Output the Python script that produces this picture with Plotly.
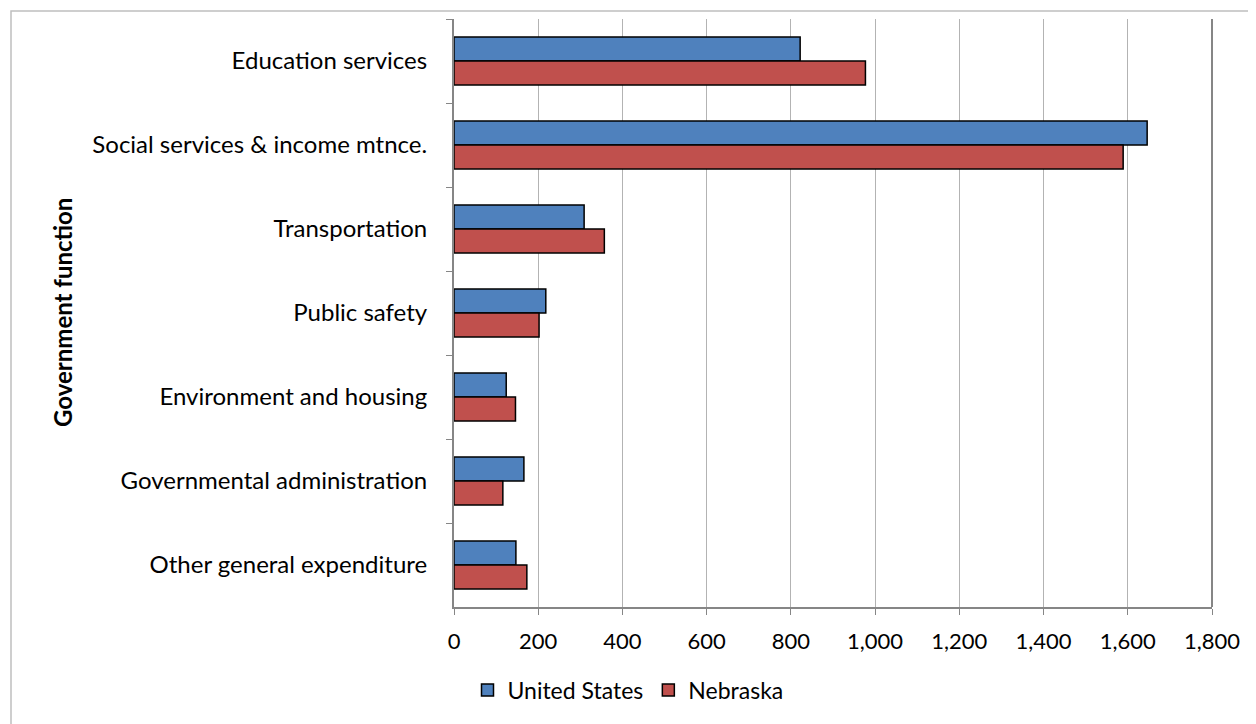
import plotly.graph_objects as go

categories = [
    "Education services",
    "Social services & income mtnce.",
    "Transportation",
    "Public safety",
    "Environment and housing",
    "Governmental administration",
    "Other general expenditure",
]
us_values = [822, 1646, 309, 218, 124, 166, 147]
ne_values = [977, 1589, 357, 202, 146, 116, 173]
x_ticks = [0, 200, 400, 600, 800, 1000, 1200, 1400, 1600, 1800]
x_tick_labels = ["0", "200", "400", "600", "800", "1,000", "1,200", "1,400", "1,600", "1,800"]

OFF = 8  # page body margin
W, H = 1256 - OFF, 724 - OFF
L, R, T, B = 454 - OFF, 1212 - OFF, 19 - OFF, 607 - OFF

font_family = "Lato, Carlito, Calibri, sans-serif"

fig = go.Figure()
fig.add_trace(go.Bar(
    y=categories, x=us_values, orientation="h", name="United States",
    marker=dict(color="#4F81BD", line=dict(color="#000000", width=1.5)),
))
fig.add_trace(go.Bar(
    y=categories, x=ne_values, orientation="h", name="Nebraska",
    marker=dict(color="#C0504D", line=dict(color="#000000", width=1.5)),
))

pw = R - L
ph = B - T

def px_x(x):
    return (x - OFF - L) / pw

def px_y(y):
    return (B - (y - OFF)) / ph

fig.update_layout(
    width=W, height=H,
    margin=dict(l=L, r=W - R, t=T, b=H - B, pad=0),
    paper_bgcolor="white", plot_bgcolor="white",
    barmode="group", bargap=0.43, bargroupgap=0,
    font=dict(family=font_family, size=24, color="#000000"),
    showlegend=True,
    legend=dict(
        orientation="h", x=px_x(628), xanchor="center",
        y=px_y(690), yanchor="middle",
        font=dict(size=23, family=font_family), traceorder="normal",
        itemwidth=30,
    ),
    xaxis=dict(
        range=[0, 1800], tickvals=x_ticks, ticktext=x_tick_labels,
        showgrid=True, gridcolor="#b3b3b3", gridwidth=1,
        showline=True, linecolor="#868686", linewidth=2,
        ticks="outside", ticklen=6, tickcolor="#868686",
        tickfont=dict(size=22, family=font_family),
        ticklabelstandoff=8,
        zeroline=False, fixedrange=True,
    ),
    yaxis=dict(
        categoryorder="array", categoryarray=categories, autorange="reversed",
        showgrid=False, showline=True, linecolor="#868686", linewidth=2,
        ticks="outside", ticklen=6, tickcolor="#868686", tickson="boundaries",
        tickfont=dict(size=24, family=font_family),
        ticklabelstandoff=20,
        zeroline=False,
    ),
    annotations=[dict(
        text="<b>Government function</b>", textangle=-90,
        xref="paper", yref="paper", x=px_x(62), y=0.5,
        xanchor="center", yanchor="middle", showarrow=False,
        font=dict(size=24, family=font_family),
    )],
    shapes=[
        dict(type="rect", xref="paper", yref="paper",
             x0=px_x(11), x1=px_x(1300),
             y0=px_y(760), y1=px_y(11),
             line=dict(color="#bfbfbf", width=1.5), fillcolor="rgba(0,0,0,0)", layer="below"),
        dict(type="line", xref="x domain", yref="y domain", x0=1, x1=1, y0=0, y1=1,
             line=dict(color="#868686", width=2)),
    ],
)

fig.write_html("out.html")
